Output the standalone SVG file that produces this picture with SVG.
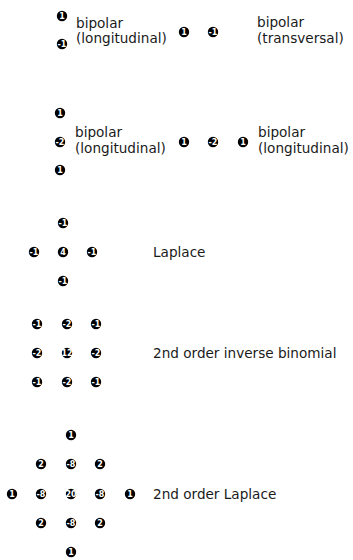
<svg xmlns="http://www.w3.org/2000/svg" width="353" height="560" viewBox="0 0 353 560">
  <style>
    .w { fill: #000; }
    .v { fill: #fff; font-family: "DejaVu Sans", sans-serif; font-size: 8px; font-weight: bold; text-anchor: middle; dominant-baseline: central; }
    .lbl { fill: #1a1a1a; font-family: "DejaVu Sans", sans-serif; font-size: 13.6px; }
  </style>
  <defs>
    <circle id="dot" r="5.2" class="w"/>
  </defs>

  <!-- bipolar longitudinal, 2 taps -->
  <g id="bipolar-long-2">
    <use href="#dot" x="62" y="16"/><text class="v" x="62" y="16">1</text>
    <use href="#dot" x="62" y="44"/><text class="v" x="62" y="44">-1</text>
    <text class="lbl" x="76" y="28">bipolar</text>
    <text class="lbl" x="76" y="43">(longitudinal)</text>
  </g>

  <!-- bipolar transversal, 2 taps -->
  <g id="bipolar-trans-2">
    <use href="#dot" x="184" y="32"/><text class="v" x="184" y="32">1</text>
    <use href="#dot" x="213" y="32"/><text class="v" x="213" y="32">-1</text>
    <text class="lbl" x="257" y="27">bipolar</text>
    <text class="lbl" x="257" y="43">(transversal)</text>
  </g>

  <!-- bipolar longitudinal, 3 taps vertical -->
  <g id="bipolar-long-3v">
    <use href="#dot" x="60" y="113"/><text class="v" x="60" y="113">1</text>
    <use href="#dot" x="60" y="142"/><text class="v" x="60" y="142">-2</text>
    <use href="#dot" x="60" y="170"/><text class="v" x="60" y="170">1</text>
    <text class="lbl" x="75" y="137">bipolar</text>
    <text class="lbl" x="75" y="153">(longitudinal)</text>
  </g>

  <!-- bipolar longitudinal, 3 taps horizontal -->
  <g id="bipolar-long-3h">
    <use href="#dot" x="184" y="142"/><text class="v" x="184" y="142">1</text>
    <use href="#dot" x="213" y="142"/><text class="v" x="213" y="142">-2</text>
    <use href="#dot" x="243" y="142"/><text class="v" x="243" y="142">1</text>
    <text class="lbl" x="258" y="137">bipolar</text>
    <text class="lbl" x="258" y="153">(longitudinal)</text>
  </g>

  <!-- Laplace -->
  <g id="laplace">
    <use href="#dot" x="63" y="223"/><text class="v" x="63" y="223">-1</text>
    <use href="#dot" x="34" y="252"/><text class="v" x="34" y="252">-1</text>
    <use href="#dot" x="63" y="252"/><text class="v" x="63" y="252">4</text>
    <use href="#dot" x="92" y="252"/><text class="v" x="92" y="252">-1</text>
    <use href="#dot" x="63" y="281"/><text class="v" x="63" y="281">-1</text>
    <text class="lbl" x="153" y="257">Laplace</text>
  </g>

  <!-- 2nd order inverse binomial -->
  <g id="inverse-binomial">
    <use href="#dot" x="37" y="324"/><text class="v" x="37" y="324">-1</text>
    <use href="#dot" x="67" y="324"/><text class="v" x="67" y="324">-2</text>
    <use href="#dot" x="96" y="324"/><text class="v" x="96" y="324">-1</text>
    <use href="#dot" x="37" y="353"/><text class="v" x="37" y="353">-2</text>
    <use href="#dot" x="67" y="353"/><text class="v" x="67" y="353">12</text>
    <use href="#dot" x="96" y="353"/><text class="v" x="96" y="353">-2</text>
    <use href="#dot" x="37" y="382"/><text class="v" x="37" y="382">-1</text>
    <use href="#dot" x="67" y="382"/><text class="v" x="67" y="382">-2</text>
    <use href="#dot" x="96" y="382"/><text class="v" x="96" y="382">-1</text>
    <text class="lbl" x="153" y="358">2nd order inverse binomial</text>
  </g>

  <!-- 2nd order Laplace -->
  <g id="laplace-2">
    <use href="#dot" x="71" y="435"/><text class="v" x="71" y="435">1</text>
    <use href="#dot" x="41" y="464"/><text class="v" x="41" y="464">2</text>
    <use href="#dot" x="71" y="464"/><text class="v" x="71" y="464">-8</text>
    <use href="#dot" x="100" y="464"/><text class="v" x="100" y="464">2</text>
    <use href="#dot" x="12" y="494"/><text class="v" x="12" y="494">1</text>
    <use href="#dot" x="41" y="494"/><text class="v" x="41" y="494">-8</text>
    <use href="#dot" x="71" y="494"/><text class="v" x="71" y="494">20</text>
    <use href="#dot" x="100" y="494"/><text class="v" x="100" y="494">-8</text>
    <use href="#dot" x="130" y="494"/><text class="v" x="130" y="494">1</text>
    <use href="#dot" x="41" y="523"/><text class="v" x="41" y="523">2</text>
    <use href="#dot" x="71" y="523"/><text class="v" x="71" y="523">-8</text>
    <use href="#dot" x="100" y="523"/><text class="v" x="100" y="523">2</text>
    <use href="#dot" x="71" y="552"/><text class="v" x="71" y="552">1</text>
    <text class="lbl" x="153" y="499">2nd order Laplace</text>
  </g>
</svg>
